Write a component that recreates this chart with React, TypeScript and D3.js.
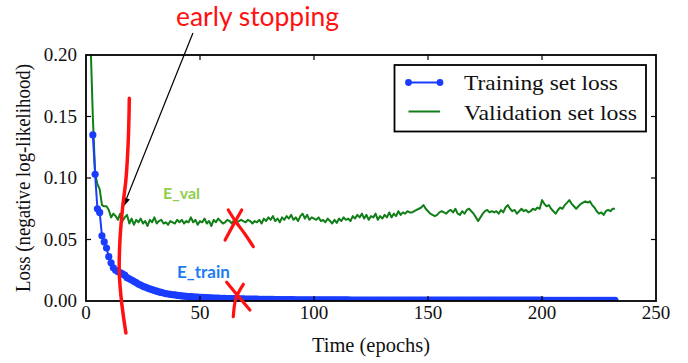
import React from "react";
import * as d3 from "d3";

// ---------- data ----------
const trainStartEpoch = 3;
const trainLoss: number[] = [
  0.135, 0.103, 0.075, 0.072, 0.053, 0.048, 0.043, 0.036,
  0.031, 0.027, 0.025, 0.024, 0.023, 0.022, 0.021, 0.019, 0.018, 0.017,
  0.016, 0.015, 0.0138, 0.013, 0.012, 0.0112, 0.0105, 0.0098, 0.0092, 0.0086,
  0.008, 0.0075, 0.007, 0.0065, 0.006, 0.0057, 0.0054, 0.0051, 0.0049, 0.0046,
  0.0044, 0.0042, 0.004, 0.0038, 0.0036, 0.0035, 0.0033, 0.0032, 0.0031, 0.003,
  0.0029, 0.0028, 0.0027, 0.0026, 0.0025, 0.0024, 0.0024, 0.0023, 0.0022, 0.0022,
  0.0021, 0.002, 0.002, 0.0019, 0.0019, 0.0018, 0.0018, 0.0017, 0.0017, 0.0016,
  0.0016, 0.0016, 0.0015, 0.0015, 0.0015, 0.0014, 0.0014, 0.0014, 0.0013, 0.0013,
  0.0013, 0.0013, 0.0012, 0.0012, 0.0012, 0.0012, 0.0011, 0.0011, 0.0011, 0.0011,
  0.0011, 0.001, 0.001, 0.001, 0.001, 0.001, 0.001, 0.0009, 0.0009, 0.0009,
  0.0009, 0.0009, 0.0009, 0.0009, 0.0009, 0.0009, 0.0009, 0.0009, 0.0009, 0.0009,
  0.0009, 0.0009, 0.0009, 0.0009, 0.0009, 0.0008, 0.0008, 0.0008, 0.0008, 0.0008,
  0.0008, 0.0008, 0.0008, 0.0008, 0.0008, 0.0008, 0.0008, 0.0008, 0.0008, 0.0008,
  0.0008, 0.0008, 0.0008, 0.0008, 0.0008, 0.0008, 0.0008, 0.0008, 0.0008, 0.0008,
  0.0008, 0.0008, 0.0008, 0.0008, 0.0008, 0.0008, 0.0008, 0.0008, 0.0008, 0.0008,
  0.0007, 0.0007, 0.0007, 0.0007, 0.0007, 0.0007, 0.0007, 0.0007, 0.0007, 0.0007,
  0.0007, 0.0007, 0.0007, 0.0007, 0.0007, 0.0007, 0.0007, 0.0007, 0.0007, 0.0007,
  0.0007, 0.0007, 0.0007, 0.0007, 0.0007, 0.0007, 0.0007, 0.0007, 0.0007, 0.0007,
  0.0007, 0.0007, 0.0007, 0.0007, 0.0007, 0.0007, 0.0007, 0.0007, 0.0007, 0.0007,
  0.0007, 0.0007, 0.0007, 0.0007, 0.0007, 0.0007, 0.0007, 0.0007, 0.0007, 0.0007,
  0.0006, 0.0006, 0.0006, 0.0006, 0.0006, 0.0006, 0.0006, 0.0006, 0.0006, 0.0006,
  0.0006, 0.0006, 0.0006, 0.0006, 0.0006, 0.0006, 0.0006, 0.0006, 0.0006, 0.0006,
  0.0006, 0.0006, 0.0006, 0.0006, 0.0006, 0.0006, 0.0006, 0.0006, 0.0006, 0.0006,
  0.0006, 0.0006,
];

const valStartEpoch = 1;
const valLoss: number[] = [
  0.4, 0.21, 0.15, 0.104, 0.095, 0.091, 0.078, 0.077, 0.077, 0.074,
  0.068, 0.071, 0.069, 0.066, 0.071, 0.065, 0.068, 0.07, 0.063, 0.067,
  0.062, 0.066, 0.064, 0.067, 0.063, 0.065, 0.061, 0.066, 0.064, 0.068,
  0.063, 0.065, 0.066, 0.063, 0.064, 0.062, 0.065, 0.064, 0.063, 0.066,
  0.064, 0.066, 0.063, 0.065, 0.064, 0.068, 0.064, 0.066, 0.062, 0.065,
  0.064, 0.067, 0.063, 0.065, 0.061, 0.066, 0.064, 0.067, 0.065, 0.063,
  0.064, 0.066, 0.065, 0.063, 0.066, 0.064, 0.065, 0.066, 0.065, 0.064,
  0.066, 0.065, 0.063, 0.065, 0.064, 0.066, 0.063, 0.067, 0.065, 0.068,
  0.066, 0.069, 0.065, 0.067, 0.064, 0.068, 0.066, 0.069, 0.067, 0.07,
  0.066, 0.068, 0.065, 0.069, 0.071, 0.067, 0.07, 0.066, 0.068, 0.067,
  0.066, 0.068, 0.065, 0.066, 0.064, 0.067, 0.065, 0.063, 0.066, 0.0635,
  0.067, 0.065, 0.068, 0.066, 0.067, 0.065, 0.069, 0.067, 0.07, 0.068,
  0.071, 0.067, 0.07, 0.066, 0.069, 0.068, 0.071, 0.066, 0.069, 0.067,
  0.07, 0.068, 0.072, 0.068, 0.071, 0.069, 0.073, 0.07, 0.072, 0.071,
  0.073, 0.072, 0.072, 0.073, 0.074, 0.075, 0.076, 0.078, 0.075, 0.073,
  0.071, 0.07, 0.069, 0.07, 0.072, 0.073, 0.072, 0.071, 0.073, 0.074,
  0.072, 0.075, 0.071, 0.07, 0.073, 0.071, 0.074, 0.075, 0.073, 0.071,
  0.068, 0.065, 0.068, 0.071, 0.073, 0.074, 0.072, 0.073, 0.072, 0.073,
  0.071, 0.074, 0.072, 0.076, 0.078, 0.075, 0.073, 0.074, 0.071, 0.073,
  0.075, 0.073, 0.074, 0.072, 0.073, 0.075, 0.074, 0.076, 0.075, 0.082,
  0.079, 0.077, 0.078, 0.075, 0.073, 0.071, 0.074, 0.076, 0.075, 0.078,
  0.08, 0.082, 0.079, 0.077, 0.075, 0.077, 0.079, 0.08, 0.081, 0.08,
  0.081, 0.078, 0.076, 0.073, 0.071, 0.072, 0.07, 0.073, 0.074, 0.073,
  0.075, 0.075,
];

const xTicks: number[] = [0, 50, 100, 150, 200, 250];
const yTicks: number[] = [0, 0.05, 0.1, 0.15, 0.2];
const seriesNames: string[] = ["Training set loss", "Validation set loss"];

// hand-drawn annotation strokes, in data units [epoch, loss]
const stopCurve: [number, number][] = [
  [19.0, 0.1648], [18.55, 0.1309], [17.5, 0.0984], [16.1, 0.0767],
  [14.9, 0.0496], [14.6, 0.0228], [15.66, -0.0016], [17.5, -0.026],
];
const crossStrokes: [number, number][][] = [
  [[62.4, 0.074], [65.8, 0.0642], [69.7, 0.0545], [73.4, 0.0441]],
  [[68.3, 0.074], [65.8, 0.0659], [61.0, 0.0496]],
  [[61.7, 0.0152], [66.7, 0.0041], [71.9, -0.0073]],
  [[69.0, 0.0136], [65.8, 0.0024], [64.6, -0.0128]],
];
const arrowPts: [number, number][] = [[46.9, 0.2179], [16.36, 0.0767]];

export default function App() {
  const W = 688, H = 363;
  const x = d3.scaleLinear().domain([0, 250]).range([86, 656]);
  const y = d3.scaleLinear().domain([0, 0.2]).range([301, 55]);
  const [x0, x1] = x.range();
  const [yb, yt] = y.range();

  const lineFrom = (start: number) =>
    d3.line<number>().x((_, i) => x(i + start)).y((d) => y(d));
  const curve = d3
    .line<[number, number]>()
    .x((d) => x(d[0]))
    .y((d) => y(d[1]))
    .curve(d3.curveCatmullRom);

  const blue = "#1a3cff";
  const green = "#107f18";
  const red = "#ff1111";
  const serif = "'Liberation Serif', 'Times New Roman', serif";
  const sans = "Lato, 'Open Sans', sans-serif";

  // arrow geometry
  const ax0 = x(arrowPts[0][0]), ay0 = y(arrowPts[0][1]);
  const ax1 = x(arrowPts[1][0]), ay1 = y(arrowPts[1][1]);
  const ang = Math.atan2(ay1 - ay0, ax1 - ax0);
  const hl = 9, hw = 3.5;
  const bx = ax1 - hl * Math.cos(ang), by = ay1 - hl * Math.sin(ang);
  const head = `M${ax1},${ay1} L${bx + hw * Math.sin(ang)},${by - hw * Math.cos(ang)} L${bx - hw * Math.sin(ang)},${by + hw * Math.cos(ang)} Z`;

  return (
    <svg
      width={W}
      height={H}
      style={{ position: "absolute", left: 0, top: 0, background: "#fff" }}
    >
      <defs>
        <clipPath id="plot">
          <rect x={x0} y={yt} width={x1 - x0} height={yb - yt} />
        </clipPath>
      </defs>
      <rect x={0} y={0} width={W} height={H} fill="#fff" />

      {/* series */}
      <g clipPath="url(#plot)">
        <path d={lineFrom(valStartEpoch)(valLoss) || ""} fill="none" stroke={green} strokeWidth={2} strokeLinejoin="round" />
        <path d={lineFrom(trainStartEpoch)(trainLoss) || ""} fill="none" stroke={blue} strokeWidth={2} />
        {trainLoss.map((v, i) => (
          <circle key={i} cx={x(i + trainStartEpoch)} cy={y(v)} r={3.6} fill={blue} />
        ))}
      </g>

      {/* ticks */}
      {xTicks.slice(1, -1).map((t) => (
        <g key={"xt" + t}>
          <line x1={x(t)} x2={x(t)} y1={yb} y2={yb - 5} stroke="#000" strokeWidth={1.2} />
          <line x1={x(t)} x2={x(t)} y1={yt} y2={yt + 5} stroke="#000" strokeWidth={1.2} />
        </g>
      ))}
      {yTicks.slice(1, -1).map((t) => (
        <g key={"yt" + t}>
          <line x1={x0} x2={x0 + 5} y1={y(t)} y2={y(t)} stroke="#000" strokeWidth={1.2} />
          <line x1={x1} x2={x1 - 5} y1={y(t)} y2={y(t)} stroke="#000" strokeWidth={1.2} />
        </g>
      ))}
      <rect x={x0} y={yt} width={x1 - x0} height={yb - yt} fill="none" stroke="#000" strokeWidth={1.8} />

      {/* tick labels */}
      {xTicks.map((t) => (
        <text key={"xl" + t} x={x(t)} y={yb + 18} textAnchor="middle" fontFamily={serif} fontSize={19} fill="#111">
          {t}
        </text>
      ))}
      {yTicks.map((t) => (
        <text key={"yl" + t} x={77} y={y(t) + 6} textAnchor="end" fontFamily={serif} fontSize={19} fill="#111">
          {t.toFixed(2)}
        </text>
      ))}

      {/* axis labels */}
      <text x={(x0 + x1) / 2} y={352} textAnchor="middle" fontFamily={serif} fontSize={20} fill="#111" textLength={118} lengthAdjust="spacingAndGlyphs">
        Time (epochs)
      </text>
      <text
        transform={`translate(30,${(yt + yb) / 2}) rotate(-90)`}
        textAnchor="middle"
        fontFamily={serif}
        fontSize={20}
        fill="#111"
        textLength={228}
        lengthAdjust="spacingAndGlyphs"
      >
        Loss (negative log-likelihood)
      </text>

      {/* legend */}
      <rect x={394.5} y={65} width={251.5} height={66.5} fill="#fff" stroke="#000" strokeWidth={1.8} />
      <line x1={408.5} x2={440} y1={82.5} y2={82.5} stroke={blue} strokeWidth={2} />
      <circle cx={408.5} cy={82.5} r={3.4} fill={blue} />
      <circle cx={440} cy={82.5} r={3.4} fill={blue} />
      <text x={464} y={90} fontFamily={serif} fontSize={21} fill="#111" textLength={154} lengthAdjust="spacingAndGlyphs">
        {seriesNames[0]}
      </text>
      <line x1={408.5} x2={440} y1={111.5} y2={111.5} stroke={green} strokeWidth={2} />
      <text x={464} y={119.5} fontFamily={serif} fontSize={21} fill="#111" textLength={173} lengthAdjust="spacingAndGlyphs">
        {seriesNames[1]}
      </text>

      {/* annotations */}
      <line x1={ax0} y1={ay0} x2={bx} y2={by} stroke="#000" strokeWidth={1.2} />
      <path d={head} fill="#000" />
      <text x={176} y={26} fontFamily={sans} fontSize={26} fill={red} textLength={163} lengthAdjust="spacingAndGlyphs">
        early stopping
      </text>
      <path d={curve(stopCurve) || ""} fill="none" stroke={red} strokeWidth={3.5} strokeLinecap="round" />
      {crossStrokes.map((s, i) => (
        <path key={"cx" + i} d={curve(s) || ""} fill="none" stroke={red} strokeWidth={3.2} strokeLinecap="round" />
      ))}
      <text x={163} y={199} fontFamily={sans} fontWeight={700} fontSize={16} fill="#8fce4a">
        E_val
      </text>
      <text x={177} y={278} fontFamily={sans} fontWeight={700} fontSize={17} fill="#1c7cf2">
        E_train
      </text>
    </svg>
  );
}
